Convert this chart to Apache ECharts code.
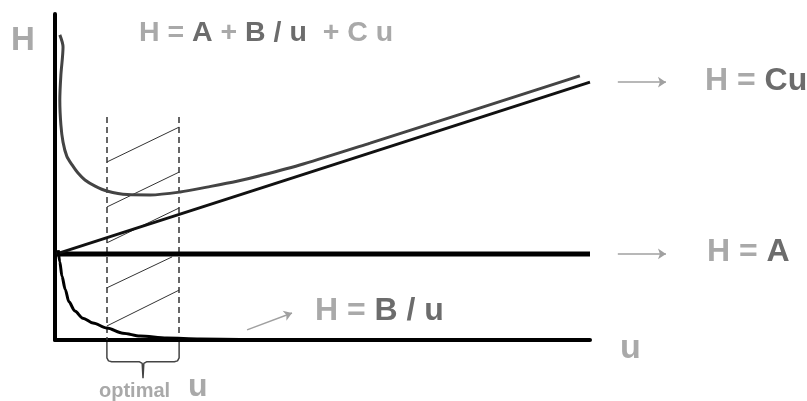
<!DOCTYPE html>
<html>
<head>
<meta charset="utf-8">
<script src="https://cdn.jsdelivr.net/npm/echarts@6/dist/echarts.min.js"></script>
<style>
  html, body { margin: 0; padding: 0; background: #fff; }
  #chart { width: 807px; height: 401px; }
</style>
</head>
<body>
<div id="chart"></div>
<script>
// axis ranges (arbitrary units, schematic plot)
const uRange = [0, 10]
const hRange = [0, 10]

// H = A (flat line)
const aLine = [[0, 2.64], [10, 2.64]]
// A + Cu (straight line)
const cuLine = [[0.03, 2.64], [10, 7.91]]
// H = A + B/u + Cu
const totalCurve = [
  [0.09, 9.36], [0.15, 8.99], [0.11, 8.13], [0.09, 7.36], [0.11, 6.6],
  [0.15, 6.07], [0.22, 5.64], [0.32, 5.37], [0.43, 5.12], [0.56, 4.91],
  [0.75, 4.72], [0.97, 4.57], [1.35, 4.46], [1.78, 4.45], [2.34, 4.54],
  [2.84, 4.69], [3.4, 4.87], [3.83, 5.04], [4.64, 5.4], [5.89, 6.04],
  [7.76, 7.02], [9.81, 8.1]
]
// H = B/u
const bCurve = [
  [0.06, 2.76], [0.09, 2.39], [0.13, 1.96], [0.19, 1.56], [0.26, 1.17],
  [0.37, 0.89], [0.52, 0.67], [0.71, 0.52], [0.97, 0.37], [1.27, 0.21],
  [1.59, 0.12], [2.09, 0.06], [2.71, 0.03], [3.46, 0.015]
]
// optimal u band
const optimalU = [0.97, 2.32]
const bandTop = 6.84
const hatchLines = [
  [[0.97, 5.46], [2.32, 6.53]],
  [[0.97, 4.08], [2.32, 5.15]],
  [[0.97, 2.98], [2.32, 4.05]],
  [[0.97, 1.6], [2.19, 2.55]],
  [[0.97, 0.43], [2.32, 1.53]]
]
const bracket = [
  [0.97, -0.06], [0.97, -0.55], [1.0, -0.64], [1.06, -0.67], [1.58, -0.67],
  [1.63, -0.72], [1.645, -1.17], [1.66, -0.72], [1.71, -0.67], [2.23, -0.67],
  [2.29, -0.64], [2.32, -0.55], [2.32, -0.06]
]
const arrows = [
  [[10.52, 7.91], [11.42, 7.91]],
  [[10.52, 2.64], [11.42, 2.64]],
  [[3.59, 0.31], [4.43, 0.83]]
]

const FONT = 'Liberation Sans, Arial, sans-serif'
const LIGHT = '#a9a9a9'
const DARK = '#6c6c6c'

const chart = echarts.init(document.getElementById('chart'))

const txt = (x, y, text, rich) => ({
  type: 'text',
  x: x,
  y: y,
  style: { text: text, rich: rich, verticalAlign: 'middle', align: 'left' }
})
const tok = (size, color) => ({ fontSize: size, fontWeight: 'bold', fontFamily: FONT, fill: color })

chart.setOption({
  animation: false,
  backgroundColor: '#fff',
  grid: { left: 55, right: 217, top: 14, bottom: 61 },
  xAxis: {
    type: 'value',
    min: uRange[0],
    max: uRange[1],
    axisLine: { show: true, onZero: false, lineStyle: { color: '#000', width: 4 } },
    axisTick: { show: false },
    axisLabel: { show: false },
    splitLine: { show: false }
  },
  yAxis: {
    type: 'value',
    min: hRange[0],
    max: hRange[1],
    axisLine: { show: true, onZero: false, lineStyle: { color: '#000', width: 4 } },
    axisTick: { show: false },
    axisLabel: { show: false },
    splitLine: { show: false }
  },
  series: [
    {
      type: 'lines',
      coordinateSystem: 'cartesian2d',
      lineStyle: { color: '#333', width: 1.5, type: [6, 4], opacity: 1 },
      data: optimalU.map((u) => ({ coords: [[u, bandTop], [u, 0]] }))
    },
    {
      type: 'lines',
      coordinateSystem: 'cartesian2d',
      lineStyle: { color: '#333', width: 1, opacity: 1 },
      data: hatchLines.map((c) => ({ coords: c }))
    },
    {
      type: 'line',
      data: bracket,
      clip: false,
      showSymbol: false,
      lineStyle: { color: '#444', width: 1.5 }
    },
    {
      type: 'line',
      data: aLine,
      showSymbol: false,
      lineStyle: { color: '#000', width: 5 }
    },
    {
      type: 'line',
      data: cuLine,
      showSymbol: false,
      lineStyle: { color: '#111', width: 3 }
    },
    {
      type: 'line',
      data: totalCurve,
      smooth: 0.3,
      showSymbol: false,
      lineStyle: { color: '#444', width: 3 }
    },
    {
      type: 'line',
      data: bCurve,
      smooth: 0.3,
      smoothMonotone: 'x',
      showSymbol: false,
      lineStyle: { color: '#000', width: 3 }
    },
    {
      type: 'lines',
      coordinateSystem: 'cartesian2d',
      clip: false,
      symbol: ['none', 'arrow'],
      symbolSize: 8,
      lineStyle: { color: '#a0a0a0', width: 1.5, opacity: 1 },
      data: arrows.map((c) => ({ coords: c }))
    }
  ],
  graphic: [
    txt(11, 41, '{l|H}', { l: tok(33, LIGHT) }),
    txt(139, 33, '{l|H = }{d|A}{l| + }{d|B / u}{l|  + C u}', { l: tok(28.5, LIGHT), d: tok(28.5, DARK) }),
    txt(705, 81, '{l|H = }{d|Cu}', { l: tok(32, LIGHT), d: tok(32, DARK) }),
    txt(707, 252, '{l|H = }{d|A}', { l: tok(32, LIGHT), d: tok(32, DARK) }),
    txt(315, 311, '{l|H = }{d|B / u}', { l: tok(32, LIGHT), d: tok(32, DARK) }),
    txt(620, 349, '{l|u}', { l: tok(34, LIGHT) }),
    txt(99, 391, '{l|optimal}', { l: tok(20, LIGHT) }),
    txt(188, 387, '{l|u}', { l: tok(32, LIGHT) })
  ]
})
</script>
</body>
</html>
